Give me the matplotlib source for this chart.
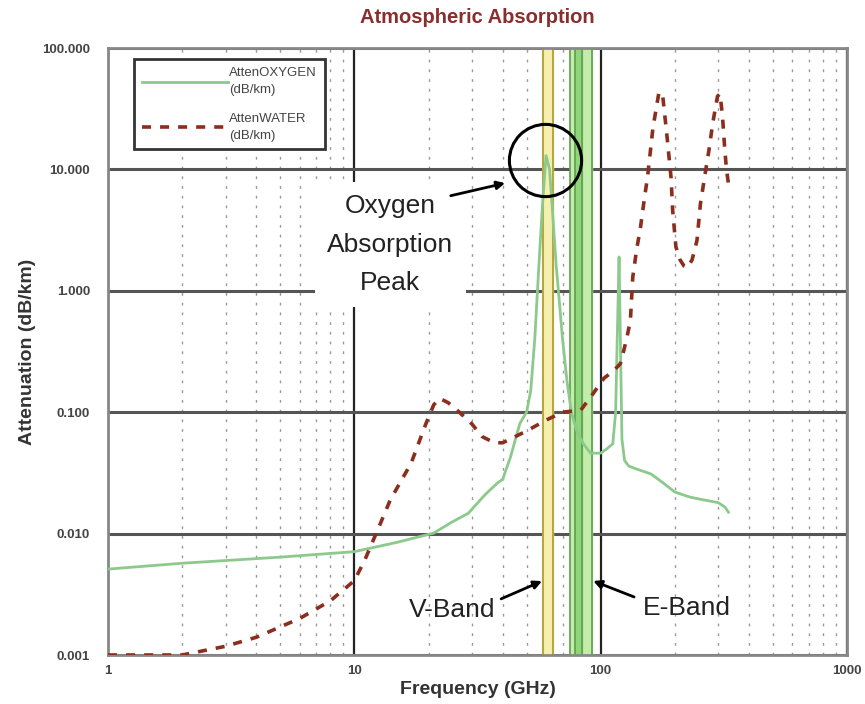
import matplotlib
matplotlib.use("Agg")
import matplotlib.pyplot as plt
from matplotlib.ticker import FixedLocator, NullFormatter, FixedFormatter

plt.rcParams['font.family'] = ['Liberation Sans', 'DejaVu Sans']

# ---- data ----
oxy_freq = [1, 2, 5, 10, 15, 21, 25, 29, 34, 38, 40, 43, 47, 50, 52, 54, 56, 58,
            60, 62, 64, 66, 68, 70, 73, 76, 80, 85, 91, 100, 106, 112, 115, 117,
            118.75, 120, 122, 125, 130, 140, 160, 180, 200, 230, 260, 300, 320, 330]
oxy_val = [0.0051, 0.0057, 0.0064, 0.0071, 0.0085, 0.0101, 0.0125, 0.0147, 0.021,
           0.026, 0.028, 0.0425, 0.081, 0.1, 0.15, 0.4, 1.5, 5,
           13, 10, 4, 1.6, 0.8, 0.4, 0.18, 0.1, 0.07, 0.055, 0.046, 0.046, 0.05,
           0.055, 0.1, 0.5, 1.9, 0.5, 0.06, 0.04, 0.036, 0.034, 0.031, 0.026,
           0.022, 0.02, 0.019, 0.018, 0.0165, 0.015]

wat_freq = [1, 2, 3, 4, 6, 8, 10, 11, 12.5, 14, 17, 19.5, 21, 22.2, 24, 26, 30, 33,
            37, 40, 45, 50, 60, 70, 83, 91, 103, 113, 120, 124, 128, 132, 135, 140,
            145, 150, 155, 163, 172, 178, 186, 193, 196, 202, 210, 218, 225, 235,
            246, 254, 265, 275, 285, 298, 305, 312, 318, 324, 330]
wat_val = [0.001, 0.001, 0.00118, 0.0014, 0.002, 0.0028, 0.0041, 0.006, 0.011,
           0.019, 0.038, 0.08, 0.115, 0.13, 0.12, 0.105, 0.08, 0.063,
           0.056, 0.056, 0.063, 0.07, 0.086, 0.1, 0.104, 0.133, 0.19, 0.22, 0.25,
           0.32, 0.42, 0.57, 1.3, 2.2, 3.3, 5.5, 8.7, 22, 42, 43, 18.5, 8.6, 4.6,
           2.3, 1.8, 1.6, 1.55, 1.8, 2.6, 5.2, 9, 14.3, 24, 40, 42, 28, 16, 10, 7.7]

y_ticks = [0.001, 0.01, 0.1, 1, 10, 100]
y_ticklabels = ["0.001", "0.010", "0.100", "1.000", "10.000", "100.000"]
x_ticks = [1, 10, 100, 1000]
x_ticklabels = ["1", "10", "100", "1000"]

v_band = (58.5, 64.0)
e_band_outer = (75.0, 92.5)
e_band_inner = (79.0, 84.0)

circle_center = (59.2, 11.9)

fig = plt.figure(figsize=(8.65, 7.04), dpi=100)
ax = fig.add_axes([0.1249, 0.0696, 0.8543, 0.8622])
ax.set_xscale('log')
ax.set_yscale('log')
ax.set_xlim(1, 1000)
ax.set_ylim(0.001, 100)

# grid
ax.xaxis.set_major_locator(FixedLocator(x_ticks))
ax.xaxis.set_major_formatter(FixedFormatter(x_ticklabels))
minors = [m * 10 ** d for d in range(0, 3) for m in range(2, 10)]
ax.xaxis.set_minor_locator(FixedLocator(minors))
ax.xaxis.set_minor_formatter(NullFormatter())
ax.yaxis.set_major_locator(FixedLocator(y_ticks))
ax.yaxis.set_major_formatter(FixedFormatter(y_ticklabels))
ax.yaxis.set_minor_locator(FixedLocator([]))
ax.grid(which='major', axis='x', color='#222222', linewidth=1.6)
ax.grid(which='major', axis='y', color='#555555', linewidth=2.2)
ax.grid(which='minor', axis='x', color='#999999', linewidth=1.0, linestyle=(0, (2, 5)))
ax.set_axisbelow(True)
for s in ax.spines.values():
    s.set_color('#888888')
    s.set_linewidth(2)
ax.tick_params(axis='y', which='both', length=0, labelsize=9.5, pad=13)
ax.tick_params(axis='x', which='both', length=0, labelsize=9.5, pad=7)
for lab in ax.get_xticklabels() + ax.get_yticklabels():
    lab.set_fontweight('bold')
    lab.set_color('#444444')

# bands
ax.axvspan(*v_band, color='#f6f0b0', zorder=1.5)
for xv in v_band:
    ax.axvline(xv, color='#b8a640', linewidth=1.5, zorder=1.6)
ax.axvspan(*e_band_outer, color='#c4ecaa', zorder=1.5)
ax.axvspan(*e_band_inner, color='#8fd67a', zorder=1.5)
for xv in list(e_band_outer) + list(e_band_inner):
    ax.axvline(xv, color='#5e9e4e', linewidth=1.2, zorder=1.6)

# curves
ax.plot(oxy_freq, oxy_val, color='#8cc98c', linewidth=2.0, label='AttenOXYGEN\n(dB/km)', zorder=3)
ax.plot(wat_freq, wat_val, color='#8b2e1e', linewidth=2.6, linestyle=(0, (2.5, 2.5)),
        label='AttenWATER\n(dB/km)', zorder=3)

# circle
ax.plot([circle_center[0]], [circle_center[1]], marker='o', markersize=52,
        markerfacecolor='none', markeredgecolor='black', markeredgewidth=2.2, zorder=5)

# annotations
ann_font = dict(fontsize=19, color='#222222')
ax.text(14.0, 2.4, "Oxygen\nAbsorption\nPeak", ha='center', va='center',
        linespacing=1.75, zorder=6,
        bbox=dict(facecolor='white', edgecolor='none', pad=9), **ann_font)
ax.annotate("", xy=(42, 7.8), xytext=(24, 6.0),
            arrowprops=dict(arrowstyle='-|>', color='black', lw=2, mutation_scale=12), zorder=6)
ax.text(25, 0.00235, "V-Band", ha='center', va='center', zorder=6, **ann_font)
ax.annotate("", xy=(59.2, 0.00415), xytext=(38.5, 0.00284),
            arrowprops=dict(arrowstyle='-|>', color='black', lw=2, mutation_scale=12), zorder=6)
ax.text(224, 0.00244, "E-Band", ha='center', va='center', zorder=6, **ann_font)
ax.annotate("", xy=(91, 0.00415), xytext=(140, 0.00295),
            arrowprops=dict(arrowstyle='-|>', color='black', lw=2, mutation_scale=12), zorder=6)

leg = ax.legend(loc='upper left', bbox_to_anchor=(0.026, 0.992), fontsize=9.5,
                handlelength=6.5, handletextpad=0.1, borderpad=0.6, labelspacing=1.3,
                frameon=True, fancybox=False, framealpha=1)
leg.get_frame().set_edgecolor('#333333')
leg.get_frame().set_linewidth(2)
for t in leg.get_texts():
    t.set_color('#444444')
    t.set_linespacing(1.5)

ax.set_title("Atmospheric Absorption", fontsize=14.5, fontweight='bold', color='#8b2d2d', pad=18)
ax.set_xlabel("Frequency (GHz)", fontsize=14, fontweight='bold', labelpad=3, color='#333333')
ax.set_ylabel("Attenuation (dB/km)", fontsize=14, fontweight='bold', labelpad=4, color='#333333')

fig.savefig("out.png", dpi=100)
